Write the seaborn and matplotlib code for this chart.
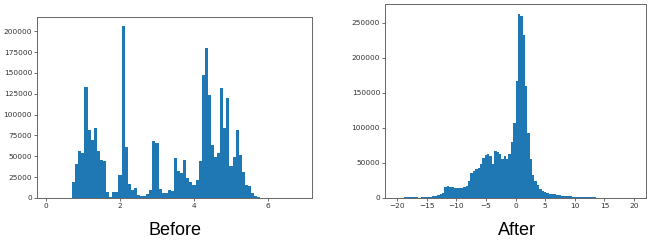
import numpy as np
import pandas as pd
import matplotlib
matplotlib.use("Agg")
import matplotlib.pyplot as plt
import seaborn as sns

# ---- data ----
before_start = 0.71
before_width = 1 / 12
before_counts = [19200, 41200, 56000, 54400, 133000, 81600, 70000, 84000, 56800, 45200,
                 44000, 7600, 1200, 7200, 6800, 28000, 206800, 60800, 16400, 10000,
                 12000, 3200, 2000, 2800, 5200, 10000, 68400, 66000, 10400, 6400,
                 5600, 9200, 8400, 47600, 32400, 30000, 45600, 24000, 18800, 15600,
                 22000, 44400, 147200, 179600, 123200, 63600, 48800, 54000, 131600, 84000,
                 120000, 38000, 48800, 82000, 51200, 31200, 16000, 14800, 6000, 2800,
                 1200, 400]

after_start = -20.0
after_width = 0.4
after_counts = [0, 0, 0, 1500, 1400, 1200, 900, 800, 800, 700,
                800, 900, 1100, 1400, 1900, 2400, 3300, 4300, 5700, 7000,
                15000, 17000, 15600, 15000, 14500, 13800, 14200, 14200, 15000, 17000,
                23700, 35600, 38000, 42000, 42700, 48000, 57000, 61500, 62500, 60000,
                49000, 67000, 65500, 63000, 55000, 60500, 55000, 63000, 80500, 106500,
                166500, 263000, 259500, 232000, 159000, 92000, 55500, 33500, 24500, 18500,
                13300, 10000, 8300, 7200, 6300, 5600, 5000, 4400, 3900, 3500,
                3100, 2800, 2500, 2200, 2000, 1800, 1600, 1400, 1300, 1200,
                1100, 1000, 900, 800, 700, 650, 600, 550, 500, 450,
                400, 200, 150, 100, 50, 0, 0, 0, 0, 0]

before_xticks = [0, 2, 4, 6]
after_xticks = [-20, -15, -10, -5, 0, 5, 10, 15, 20]
titles = ["Before", "After"]

sns.set_theme(style="white")
plt.rcParams['font.family'] = ['DejaVu Sans']

fig = plt.figure(figsize=(6.5, 2.4), dpi=100)
ax1 = fig.add_axes([37 / 650, 42 / 240, 275 / 650, 181 / 240])
ax2 = fig.add_axes([385 / 650, 42 / 240, 261 / 650, 193.7 / 240])

blue = "#1f77b4"


def draw(ax, start, width, counts):
    n = len(counts)
    edges = start + width * np.arange(n + 1)
    centers = (edges[:-1] + edges[1:]) / 2
    df = pd.DataFrame({"v": centers, "w": np.asarray(counts, dtype=float)})
    sns.histplot(data=df, x="v", weights="w", bins=list(edges), ax=ax,
                 color=blue, alpha=1, linewidth=0)
    ax.set_ylabel("")
    ax.set_xlabel("")


draw(ax1, before_start, before_width, before_counts)
draw(ax2, after_start, after_width, after_counts)

ax1.set_xlim(-0.24, 7.19)
ax1.set_xticks(before_xticks)
ax2.set_xticks(after_xticks)
ax1.set_yticks(np.arange(0, 200001, 25000))
ax2.set_yticks(np.arange(0, 250001, 50000))
ax1.set_ylim(0, max(before_counts) * 1.05)
ax2.set_ylim(0, max(after_counts) * 1.05)

for ax in (ax1, ax2):
    ax.tick_params(axis='both', labelsize=5.3, length=2, width=0.5,
                   colors='#333333', pad=1.5, bottom=True, left=True)
    for s in ax.spines.values():
        s.set_color('#666666')
        s.set_linewidth(0.7)
    ax.ticklabel_format(axis='y', style='plain')

fig.text(175 / 650, 5 / 240, titles[0], ha='center', va='baseline',
         fontsize=13, family=['Liberation Sans'], color='black')
fig.text(517 / 650, 5 / 240, titles[1], ha='center', va='baseline',
         fontsize=13, family=['Liberation Sans'], color='black')

fig.savefig("out.png", dpi=100)
